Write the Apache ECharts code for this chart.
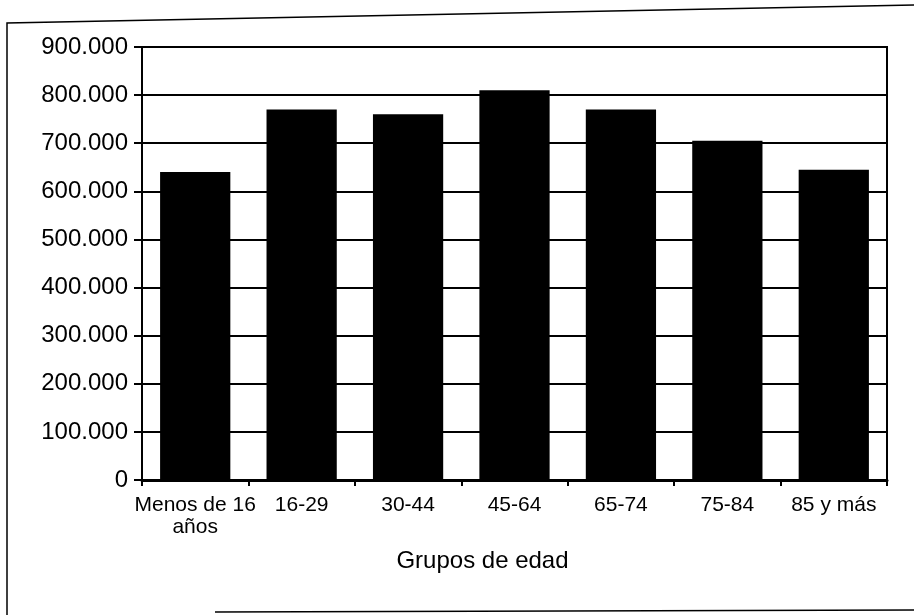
<!DOCTYPE html>
<html>
<head>
<meta charset="utf-8">
<script src="https://cdn.jsdelivr.net/npm/echarts@6/dist/echarts.min.js"></script>
<style>
html,body{margin:0;padding:0;background:#fff;}
#chart{width:914px;height:615px;}
</style>
</head>
<body>
<div id="chart"></div>
<script>
var categories = ['Menos de 16\naños', '16-29', '30-44', '45-64', '65-74', '75-84', '85 y más'];
var values = [640000, 770000, 760000, 810000, 770000, 705000, 645000];
var yTicks = { min: 0, max: 900000, interval: 100000 };
var xAxisName = 'Grupos de edad';

function fmt(v) {
  return String(Math.round(v)).replace(/\B(?=(\d{3})+(?!\d))/g, '.');
}

var chart = echarts.init(document.getElementById('chart'), null, { renderer: 'canvas' });
chart.setOption({
  backgroundColor: '#fff',
  animation: false,
  textStyle: { fontFamily: 'Liberation Sans, Arial, sans-serif', color: '#000' },
  grid: {
    left: 142, right: 27, top: 47, bottom: 135,
    containLabel: false,
    show: true, borderColor: '#000', borderWidth: 2, backgroundColor: 'transparent'
  },
  graphic: [
    { type: 'polyline', silent: true, shape: { points: [[7, 615], [7, 23], [914, 5]] },
      style: { stroke: '#000', lineWidth: 1.5, fill: null } },
    { type: 'polyline', silent: true, shape: { points: [[215, 612], [914, 610]] },
      style: { stroke: '#000', lineWidth: 1.5, fill: null } }
  ],
  xAxis: {
    type: 'category',
    data: categories,
    boundaryGap: true,
    name: xAxisName,
    nameLocation: 'middle',
    nameGap: 69,
    nameTextStyle: { fontSize: 24, color: '#000', padding: [0, 64, 0, 0], fontFamily: 'Liberation Sans, Arial, sans-serif' },
    axisLine: { show: true, lineStyle: { color: '#000', width: 3 } },
    axisTick: { show: true, alignWithLabel: false, length: 6, lineStyle: { color: '#000', width: 2 } },
    axisLabel: { color: '#000', fontSize: 21, margin: 14, lineHeight: 22, interval: 0, fontFamily: 'Liberation Sans, Arial, sans-serif' },
    splitLine: { show: false }
  },
  yAxis: {
    type: 'value',
    min: yTicks.min, max: yTicks.max, interval: yTicks.interval,
    axisLine: { show: true, lineStyle: { color: '#000', width: 2 } },
    axisTick: { show: true, length: 8, lineStyle: { color: '#000', width: 2 } },
    axisLabel: { color: '#000', fontSize: 24, margin: 14, formatter: fmt, fontFamily: 'Liberation Sans, Arial, sans-serif' },
    splitLine: { show: true, lineStyle: { color: '#000', width: 2 } }
  },
  series: [{
    type: 'bar',
    data: values,
    barWidth: '66%',
    itemStyle: { color: '#000' },
    silent: true
  }]
});
</script>
</body>
</html>
